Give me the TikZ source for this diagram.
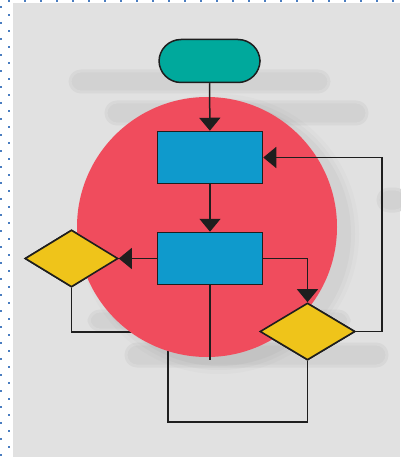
\documentclass[tikz,border=0pt]{standalone}
\usetikzlibrary{shapes.geometric,arrows.meta}
\definecolor{panel}{HTML}{E1E1E1}
\definecolor{barcol}{HTML}{D2D2D2}
\definecolor{disc}{HTML}{F04C5D}
\definecolor{teal}{HTML}{00A99C}
\definecolor{procblue}{HTML}{0F9ACC}
\definecolor{decyellow}{HTML}{EFC41A}
\definecolor{ink}{HTML}{1E1E1E}
\definecolor{dotblue}{HTML}{4A7DC0}
\tikzset{
  softbar/.style={fill=barcol, draw=barcol!60!panel, line width=3pt, rounded corners=11pt},
  terminal/.style={draw=ink, line width=1.5pt, fill=teal, rounded corners=22pt,
    minimum width=101pt, minimum height=43pt, inner sep=0pt},
  process/.style={draw=ink, line width=1.5pt, fill=procblue,
    minimum width=105pt, minimum height=52pt, inner sep=0pt},
  decision/.style={draw=ink, line width=1.6pt, fill=decyellow, diamond,
    minimum width=93pt, minimum height=57pt, inner sep=0pt},
  link/.style={draw=ink, line width=1.5pt},
  flow/.style={link, -{Triangle[width=21pt,length=13pt]}},
}
\begin{document}
\begin{tikzpicture}[x=1pt,y=-1pt]
  \useasboundingbox (0,0) rectangle (400,457);
  % page and dotted frame
  \fill[white] (0,0) rectangle (400,457);
  \fill[panel] (13,3) rectangle (400,457);
  \foreach \k in {0,...,24} {
    \fill[dotblue] (8+16*\k,0) rectangle ++(2.2,2);
  }
  \foreach \k in {0,...,28} {
    \fill[dotblue] (0,6+16*\k) rectangle ++(2,2.2);
    \fill[dotblue] (8,14+16*\k) rectangle ++(2,2.2);
  }
  % background bars
  \path[softbar] (70,71) rectangle (329,92);
  \path[softbar] (106,102) rectangle (367,124);
  \path[softbar] (378,189) rectangle (406,211);
  \path[softbar] (89,311) rectangle (349,330);
  \path[softbar] (126,344) rectangle (387,366);
  % loops that run beneath the disc
  \coordinate (lloopend) at (150,332);
  \coordinate (bloopend) at (168,330);
  % soft shadow of the disc, cast to the right
  \foreach \s/\o in {12/0.03,8/0.04,4/0.05} {
    \fill[black!60, opacity=\o] (219,234) circle (128+\s);
  }
  % decisions placed first so the hidden loop segments go beneath the disc
  \path (71.5,258.5) node[decision] (decl) {};
  \path (307.5,331.5) node[decision, minimum width=95pt] (decr) {};
  \draw[link] (decl.south) |- (lloopend);
  \draw[link] (decr.south) -- (307.5,422) -| (bloopend);
  % the disc
  \fill[disc] (207,227) circle (130);
  % flow chart
  \node[terminal] (start) at (209.5,61) {};
  \node[process] (p1) at (210,157.5) {};
  \node[process] (p2) at (210,258.5) {};
  \node[decision] at (decl) {};
  \node[decision, minimum width=95pt] at (decr) {};
  \coordinate (tail) at (210,360);
  \coordinate (rtop) at (382,157.5);
  \draw[flow] (start) -- (p1);
  \draw[flow] (p1) -- (p2);
  \draw[flow] (p2.west) -- (decl.east);
  \draw[flow] (p2.east) -| (decr.north);
  \draw[flow] (decr.east) -| (rtop) -- (p1.east);
  \draw[link] (p2.south) -- (tail);
\end{tikzpicture}
\end{document}
